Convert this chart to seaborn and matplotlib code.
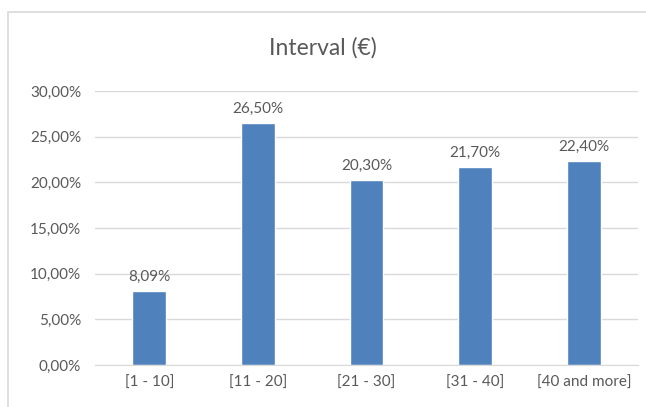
import pandas as pd
import seaborn as sns
import matplotlib.pyplot as plt
from matplotlib.patches import Rectangle
from matplotlib.ticker import FuncFormatter

# --- Data ---
categories = ["[1 - 10]", "[11 - 20]", "[21 - 30]", "[31 - 40]", "[40 and more]"]
shares = [8.09, 26.50, 20.30, 21.70, 22.40]
value_labels = ["8,09%", "26,50%", "20,30%", "21,70%", "22,40%"]

df = pd.DataFrame({"Interval": categories, "Share": shares})

sns.set_style("white")
plt.rcParams["font.family"] = ["Lato", "DejaVu Sans"]
text_color = "#595959"

fig = plt.figure(figsize=(6.46, 4.07), dpi=100)
ax = fig.add_axes([0.147, 0.103, 0.841, 0.673])

sns.barplot(data=df, x="Interval", y="Share", color="#4F81BD",
            saturation=1, width=0.31, ax=ax)

for p, lab in zip(ax.patches, value_labels):
    ax.annotate(lab, (p.get_x() + p.get_width() / 2, p.get_height()),
                xytext=(0, 5), textcoords="offset points",
                ha="center", va="bottom", fontsize=11, color=text_color)

ax.set_ylim(0, 30)
ax.set_yticks(range(0, 31, 5))
ax.yaxis.set_major_formatter(FuncFormatter(lambda v, _: f"{v:.2f}%".replace(".", ",")))
ax.set_xlim(-0.5, len(categories) - 0.5)
ax.yaxis.grid(True, color="#D9D9D9", linewidth=1)
ax.set_axisbelow(True)
for s in ["top", "right", "left"]:
    ax.spines[s].set_visible(False)
ax.spines["bottom"].set_color("#D9D9D9")
ax.tick_params(axis="both", length=0, labelsize=11, labelcolor=text_color)
ax.tick_params(axis="x", pad=8)
ax.tick_params(axis="y", pad=10)
ax.set_xlabel("")
ax.set_ylabel("")

fig.text(0.5, 0.882, "Interval (€)", ha="center", va="center",
         fontsize=16.5, color=text_color)

# chart border (cut off at right and bottom like the reference)
fig.patches.append(Rectangle((8 / 646, -0.05), 1.2, 1 - 12 / 407 + 0.05,
                             transform=fig.transFigure, fill=False,
                             edgecolor="#D9D9D9", linewidth=1.2))

fig.savefig("out.png", dpi=100)
